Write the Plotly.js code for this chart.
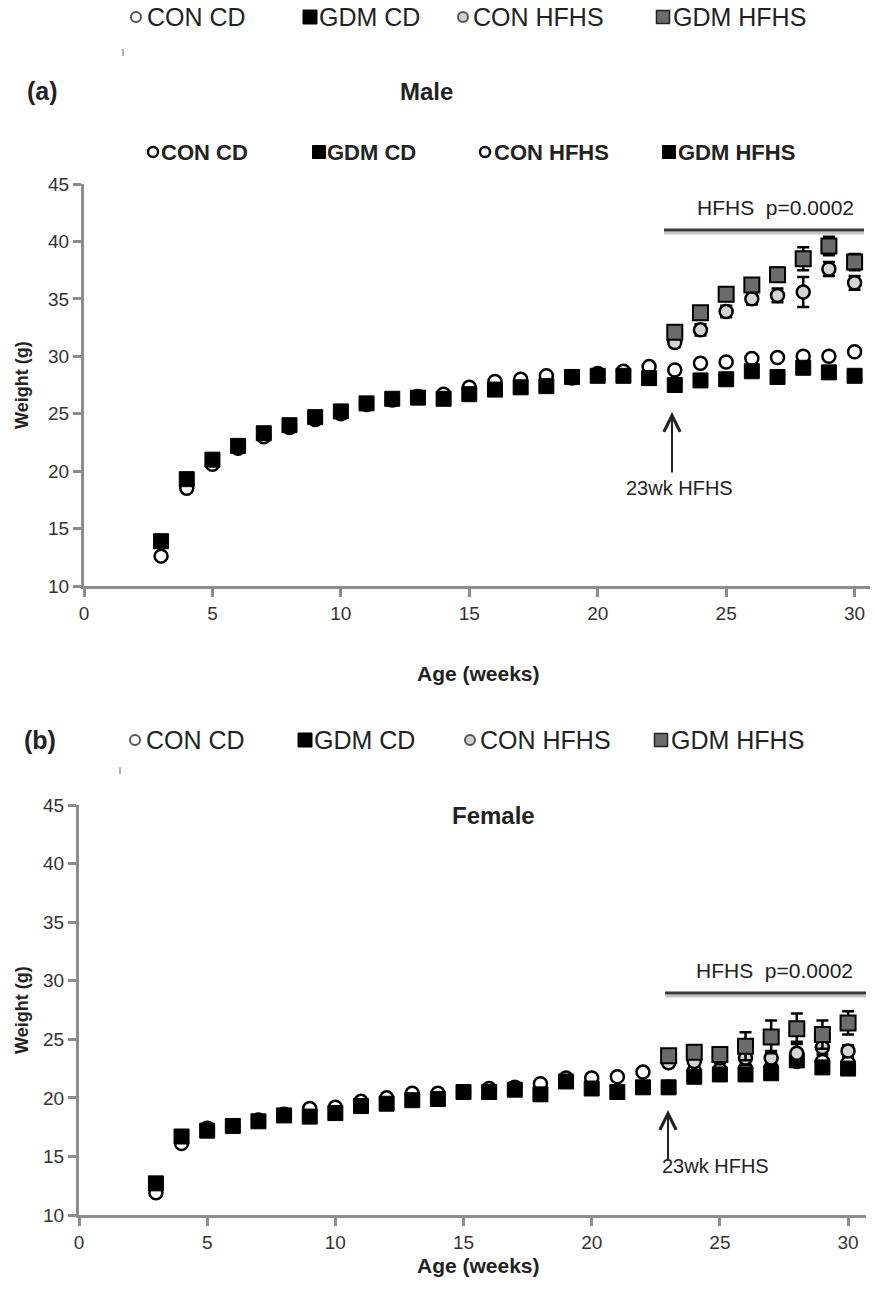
<!DOCTYPE html>
<html>
<head>
<meta charset="utf-8">
<script src="https://cdn.plot.ly/plotly-3.0.1.min.js"></script>
<style>html,body{margin:0;padding:0;background:#fff;}#chart{width:874px;height:1291px;}</style>
</head>
<body>
<div id="chart"></div>
<script>
// ---------- data ----------
var weeks = [3,4,5,6,7,8,9,10,11,12,13,14,15,16,17,18,19,20,21,22,23,24,25,26,27,28,29,30];
var hfhsWeeks = [23,24,25,26,27,28,29,30];

var maleConCD  = [12.6,18.5,20.6,22.0,23.0,23.8,24.5,25.0,25.8,26.2,26.5,26.7,27.3,27.8,28.0,28.3,28.1,28.5,28.7,29.1,28.8,29.4,29.5,29.8,29.9,30.0,30.0,30.4];
var maleGdmCD  = [13.9,19.3,21.0,22.2,23.3,24.0,24.7,25.2,25.9,26.3,26.4,26.3,26.7,27.1,27.3,27.4,28.2,28.3,28.3,28.1,27.5,27.9,28.0,28.7,28.2,29.0,28.6,28.3];
var maleConHFHS    = [31.2,32.3,33.9,35.0,35.3,35.6,37.6,36.4];
var maleConHFHSErr = [0.4,0.5,0.5,0.5,0.6,1.3,0.6,0.6];
var maleGdmHFHS    = [32.1,33.8,35.4,36.2,37.1,38.5,39.6,38.2];
var maleGdmHFHSErr = [0.5,0.5,0.5,0.5,0.6,1.0,0.8,0.7];

var femaleConCD = [11.9,16.1,17.4,17.6,18.1,18.6,19.1,19.2,19.7,20.0,20.4,20.4,20.5,20.8,20.9,21.2,21.7,21.7,21.8,22.2,20.9,22.3,22.4,22.5,22.6,23.1,23.1,23.0];
var femaleGdmCD = [12.7,16.7,17.2,17.6,18.0,18.5,18.4,18.7,19.3,19.5,19.8,19.9,20.5,20.5,20.7,20.3,21.4,20.8,20.5,20.9,20.9,21.8,22.0,22.0,22.1,23.2,22.6,22.5];
var femaleConHFHS    = [23.0,23.1,23.4,23.4,23.4,23.8,24.3,24.0];
var femaleConHFHSErr = [0.3,0.3,0.4,0.6,0.6,1.0,0.6,0.5];
var femaleGdmHFHS    = [23.6,23.9,23.7,24.4,25.2,25.9,25.4,26.4];
var femaleGdmHFHSErr = [0.5,0.5,0.4,1.2,1.4,1.3,1.2,1.0];

var groupNames = ['CON CD','GDM CD','CON HFHS','GDM HFHS'];
var yTicks = [10,15,20,25,30,35,40,45];
var xTicks = [0,5,10,15,20,25,30];

// ---------- helpers ----------
var W = 874, H = 1291;
function px(x){ return x / W; }
function py(y){ return 1 - y / H; }
var FONT = 'Liberation Sans, Arial, Helvetica, sans-serif';

var styles = [
  {symbol:'circle', size:13, color:'#ffffff', line:{color:'#000', width:2.5}},
  {symbol:'square', size:15, color:'#000000', line:{color:'#000', width:1}},
  {symbol:'circle', size:13, color:'#d4d4d4', line:{color:'#000', width:2.5}},
  {symbol:'square', size:15, color:'#6b6b6b', line:{color:'#000', width:2}}
];

function tr(x, y, err, s, xa, ya){
  var t = {x:x, y:y, type:'scatter', mode:'markers', xaxis:xa, yaxis:ya, showlegend:false,
    marker:{symbol:styles[s].symbol, size:styles[s].size, color:styles[s].color, line:styles[s].line},
    cliponaxis:false, hoverinfo:'x+y'};
  if(err){ t.error_y = {type:'data', array:err, visible:true, color:'#000', thickness:2.5, width:6}; }
  return t;
}

var data = [
  tr(weeks, maleConCD, null, 0, 'x', 'y'),
  tr(weeks, maleGdmCD, null, 1, 'x', 'y'),
  tr(hfhsWeeks, maleConHFHS, maleConHFHSErr, 2, 'x', 'y'),
  tr(hfhsWeeks, maleGdmHFHS, maleGdmHFHSErr, 3, 'x', 'y'),
  tr(weeks, femaleConCD, null, 0, 'x2', 'y2'),
  tr(weeks, femaleGdmCD, null, 1, 'x2', 'y2'),
  tr(hfhsWeeks, femaleConHFHS, femaleConHFHSErr, 2, 'x2', 'y2'),
  tr(hfhsWeeks, femaleGdmHFHS, femaleGdmHFHSErr, 3, 'x2', 'y2')
];

function axis(extra){
  var a = {showgrid:false, zeroline:false, showline:true, linecolor:'#8c8c8c', linewidth:3,
    ticks:'outside', ticklen:8, tickwidth:3, tickcolor:'#8c8c8c',
    tickfont:{family:FONT, size:19, color:'#333'}, fixedrange:true};
  for(var k in extra){ a[k] = extra[k]; }
  return a;
}

var layout = {
  width:W, height:H, margin:{l:0,r:0,t:0,b:0}, paper_bgcolor:'#fff', plot_bgcolor:'rgba(0,0,0,0)',
  showlegend:false,
  xaxis: axis({domain:[px(84), px(870)], range:[0,30.6], tickvals:xTicks, anchor:'y'}),
  yaxis: axis({domain:[py(586), py(184)], range:[10,45], tickvals:yTicks, anchor:'x'}),
  xaxis2: axis({domain:[px(79), px(866)], range:[0,30.7], tickvals:xTicks, anchor:'y2'}),
  yaxis2: axis({domain:[py(1215), py(805)], range:[10,45], tickvals:yTicks, anchor:'x2'}),
  annotations:[], shapes:[]
};

function txt(t, x, y, size, bold, opts){
  var a = {text: bold ? '<b>'+t+'</b>' : t, x:px(x), y:py(y), xref:'paper', yref:'paper',
    showarrow:false, font:{family:FONT, size:size, color:'#222'}, xanchor:'center', yanchor:'middle'};
  if(opts){ for(var k in opts){ a[k] = opts[k]; } }
  layout.annotations.push(a);
}

// legend rows (symbol shapes + labels)
function legendRow(y, items, size, bold, symStyle){
  items.forEach(function(it, i){
    var st = symStyle[i];
    var r = st.r;
    layout.shapes.push({type: st.type, xref:'paper', yref:'paper',
      x0:px(it.sx - r), x1:px(it.sx + r), y0:py(y + r), y1:py(y - r),
      fillcolor:st.fill, line:{color:st.lc, width:st.lw}});
    txt(groupNames[i], it.tx, y, size, bold, {xanchor:'left'});
  });
}
var symPlain = [
  {type:'circle', r:5, fill:'#fff', lc:'#555', lw:2},
  {type:'rect', r:7, fill:'#000', lc:'#000', lw:1},
  {type:'circle', r:5, fill:'#cfcfcf', lc:'#555', lw:2},
  {type:'rect', r:6.5, fill:'#6b6b6b', lc:'#222', lw:1.5}
];
var symBold = [
  {type:'circle', r:5, fill:'#fff', lc:'#111', lw:2.5},
  {type:'rect', r:6.5, fill:'#000', lc:'#000', lw:1},
  {type:'circle', r:5, fill:'#fff', lc:'#111', lw:2.5},
  {type:'rect', r:6.5, fill:'#000', lc:'#000', lw:1}
];
legendRow(17, [{sx:136,tx:145},{sx:310,tx:317},{sx:463,tx:471},{sx:663,tx:671}], 25, false, symPlain);
legendRow(152, [{sx:153,tx:159},{sx:319,tx:325},{sx:485,tx:492},{sx:669,tx:676}], 22, true, symBold);
legendRow(740, [{sx:135,tx:144},{sx:305,tx:312},{sx:470,tx:478},{sx:661,tx:669}], 25, false, symPlain);

// panel labels and titles
txt('(a)', 42, 91, 25, true);
txt('Male', 426, 91, 24, true);
txt('(b)', 40, 740, 25, true);
txt('Female', 493, 815, 24, true);

txt('Weight (g)', 22, 385, 18, true, {textangle:-90});
txt('Age (weeks)', 478, 673, 21, true);
txt('Weight (g)', 22, 1010, 18, true, {textangle:-90});
txt('Age (weeks)', 478, 1265, 21, true);

// significance text and bars
txt('HFHS&nbsp;&nbsp;p=0.0002', 775, 208, 21, false, {font:{family:FONT, size:21, color:'#222'}});
txt('HFHS&nbsp;&nbsp;p=0.0002', 774, 970, 21, false, {font:{family:FONT, size:21, color:'#222'}});
[[664,864,230],[665,866,993]].forEach(function(s){
  layout.shapes.push({type:'line', xref:'paper', yref:'paper', x0:px(s[0]), x1:px(s[1]), y0:py(s[2]+3), y1:py(s[2]+3), line:{color:'#c4c4c4', width:3}});
  layout.shapes.push({type:'line', xref:'paper', yref:'paper', x0:px(s[0]), x1:px(s[1]), y0:py(s[2]), y1:py(s[2]), line:{color:'#3a3a3a', width:3}});
});

// arrows
layout.annotations.push({x:px(672), y:py(412), xref:'paper', yref:'paper', ax:0, ay:62, text:'',
  showarrow:true, arrowhead:5, arrowsize:1.6, arrowwidth:2, arrowcolor:'#222'});
txt('23wk HFHS', 679, 488, 20, false, {font:{family:FONT, size:20, color:'#222'}});
layout.annotations.push({x:px(668), y:py(1110), xref:'paper', yref:'paper', ax:0, ay:52, text:'',
  showarrow:true, arrowhead:5, arrowsize:1.6, arrowwidth:2, arrowcolor:'#222'});
txt('23wk HFHS', 715, 1166, 20, false, {font:{family:FONT, size:20, color:'#222'}});

// tiny stray ticks
layout.shapes.push({type:'line', xref:'paper', yref:'paper', x0:px(123), x1:px(123), y0:py(49), y1:py(56), line:{color:'#999', width:1.5}});
layout.shapes.push({type:'line', xref:'paper', yref:'paper', x0:px(120), x1:px(120), y0:py(767), y1:py(774), line:{color:'#999', width:1.5}});

Plotly.newPlot('chart', data, layout, {staticPlot:true, displayModeBar:false});
</script>
</body>
</html>
